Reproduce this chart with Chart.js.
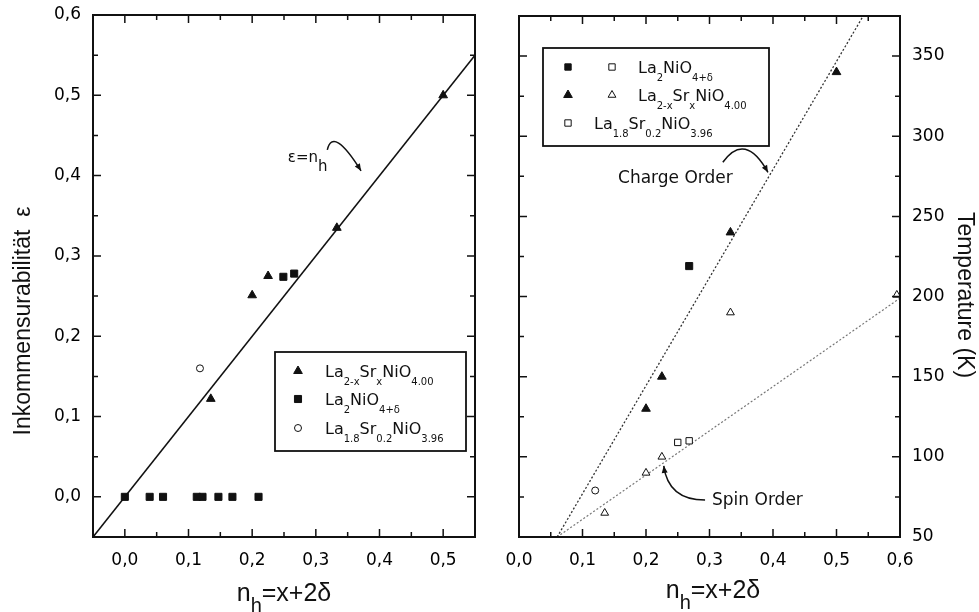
<!DOCTYPE html>
<html>
<head>
<meta charset="utf-8">
<script src="https://cdn.jsdelivr.net/npm/chart.js@4.4.1/dist/chart.umd.min.js"></script>
<style>
  body { margin: 0; background: #fff; }
  #wrap { position: relative; width: 979px; height: 612px; }
  canvas { position: absolute; top: 0; }
</style>
</head>
<body>
<div id="wrap">
  <canvas id="leftChart" width="490" height="612" style="left:0"></canvas>
  <canvas id="rightChart" width="489" height="612" style="left:490px"></canvas>
</div>
<script>
var TEXT_FONT = '"Liberation Sans", Arial, sans-serif';
var TICK_FONT = '"DejaVu Sans", sans-serif';

// ---- left panel: incommensurability vs. hole count ----
var nhSrLeft = [0.135, 0.2, 0.225, 0.333, 0.5];
var epsSrLeft = [0.122, 0.251, 0.275, 0.335, 0.5];
var nhOxLeft = [0.0, 0.039, 0.06, 0.113, 0.122, 0.147, 0.169, 0.21, 0.249, 0.266];
var epsOxLeft = [0, 0, 0, 0, 0, 0, 0, 0, 0.274, 0.278];
var nhSr02Left = [0.118];
var epsSr02Left = [0.16];
var nhFitLeft = [-0.05, 0.55];   // eps = n_h
var epsFitLeft = [-0.05, 0.55];

// ---- right panel: ordering temperatures ----
var nhOxCharge = [0.268];
var tOxCharge = [219];
var nhOxSpin = [0.25, 0.268];
var tOxSpin = [109, 110];
var nhSrCharge = [0.2, 0.225, 0.333, 0.5];
var tSrCharge = [130, 150, 240, 340];
var nhSrSpin = [0.135, 0.2, 0.225, 0.333, 0.595];
var tSrSpin = [65, 90, 100, 190, 201];
var nhSr02Right = [0.12];
var tSr02Right = [79];
var nhChargeLine = [0.06, 0.542];
var tChargeLine = [50, 375];
var nhSpinLine = [0.06, 0.6];
var tSpinLine = [50, 199];

// axis ranges / tick steps
var leftX = { min: -0.05, max: 0.55, step: 0.05, major: 0.1 };
var leftY = { min: -0.05, max: 0.6, step: 0.05, major: 0.1 };
var rightX = { min: 0, max: 0.6, step: 0.05, major: 0.1 };
var rightY = { min: 50, max: 375, step: 25, major: 50 };

function pts(xs, ys) {
  return xs.map(function (x, i) { return { x: x, y: ys[i] }; });
}

function isMajor(v, step) {
  var r = v / step;
  return Math.abs(r - Math.round(r)) < 1e-6;
}

function tickLabel(major, digits) {
  return function (v) {
    return isMajor(v, major) ? v.toFixed(digits).replace('.', ',') : '';
  };
}

// text with subscripts: parts = [[text, isSub], ...]
function drawRich(ctx, x, y, parts, size, subSize, subDy, family) {
  parts.forEach(function (p) {
    ctx.font = (p[1] ? subSize : size) + 'px ' + family;
    ctx.fillText(p[0], x, y + (p[1] ? subDy : 0));
    x += ctx.measureText(p[0]).width;
  });
  return x;
}

function marker(ctx, style, filled, x, y, r) {
  ctx.save();
  ctx.fillStyle = filled ? '#111' : '#fff';
  ctx.strokeStyle = '#111';
  ctx.lineWidth = 1;
  if (Chart.helpers && Chart.helpers.drawPoint) {
    Chart.helpers.drawPoint(ctx, { pointStyle: style, radius: r, rotation: 0, borderWidth: 1 }, x, y);
  }
  ctx.restore();
}

function curvedArrow(chart, pts3) {
  var ctx = chart.ctx, xs = chart.scales.x, ys = chart.scales.y;
  var p = pts3.map(function (q) { return [xs.getPixelForValue(q[0]), ys.getPixelForValue(q[1])]; });
  ctx.beginPath();
  ctx.moveTo(p[0][0], p[0][1]);
  ctx.quadraticCurveTo(p[1][0], p[1][1], p[2][0], p[2][1]);
  ctx.stroke();
  var ang = Math.atan2(p[2][1] - p[1][1], p[2][0] - p[1][0]);
  var L = 7, W = 3;
  ctx.beginPath();
  ctx.moveTo(p[2][0], p[2][1]);
  ctx.lineTo(p[2][0] - L * Math.cos(ang) + W * Math.sin(ang), p[2][1] - L * Math.sin(ang) - W * Math.cos(ang));
  ctx.lineTo(p[2][0] - L * Math.cos(ang) - W * Math.sin(ang), p[2][1] - L * Math.sin(ang) + W * Math.cos(ang));
  ctx.closePath();
  ctx.fill();
}

// box, inward tick marks on all four sides, titles, legend and notes
var framePlugin = {
  id: 'frame',
  afterDatasetsDraw: function (chart, args, opts) {
    var ctx = chart.ctx, a = chart.chartArea;
    var xs = chart.scales.x, ys = chart.scales.y;
    ctx.save();
    ctx.strokeStyle = '#111';
    ctx.fillStyle = '#111';
    ctx.lineWidth = 1.5;
    xs.ticks.forEach(function (t) {
      var px = xs.getPixelForValue(t.value);
      var len = isMajor(t.value, opts.xMajor) ? 8 : 5;
      ctx.beginPath();
      ctx.moveTo(px, a.bottom); ctx.lineTo(px, a.bottom - len);
      ctx.moveTo(px, a.top); ctx.lineTo(px, a.top + len);
      ctx.stroke();
    });
    ys.ticks.forEach(function (t) {
      var py = ys.getPixelForValue(t.value);
      var len = isMajor(t.value, opts.yMajor) ? 8 : 5;
      ctx.beginPath();
      ctx.moveTo(a.left, py); ctx.lineTo(a.left + len, py);
      ctx.moveTo(a.right, py); ctx.lineTo(a.right - len, py);
      ctx.stroke();
    });
    ctx.lineWidth = 2;
    ctx.strokeRect(a.left, a.top, a.right - a.left, a.bottom - a.top);

    // x title  n_h = x + 2δ
    ctx.textBaseline = 'alphabetic';
    ctx.textAlign = 'left';
    var xt = opts.xTitle;
    ctx.font = '25px ' + TEXT_FONT;
    var w = ctx.measureText('n').width + ctx.measureText('=x+2δ').width;
    ctx.font = '20px ' + TEXT_FONT;
    w += ctx.measureText('h').width;
    drawRich(ctx, xt.cx - w / 2, xt.y, [['n', 0], ['h', 1], ['=x+2δ', 0]], 25, 20, 11, TEXT_FONT);

    // y title
    var yt = opts.yTitle;
    ctx.save();
    ctx.translate(yt.x, yt.y);
    ctx.rotate(yt.rot);
    ctx.textAlign = 'center';
    ctx.font = '23px ' + TEXT_FONT;
    ctx.fillText(yt.text, 0, 0);
    ctx.restore();

    // legend
    var lg = opts.legend;
    ctx.lineWidth = 1.8;
    ctx.strokeRect(lg.box[0], lg.box[1], lg.box[2], lg.box[3]);
    lg.rows.forEach(function (row) {
      row.marks.forEach(function (m) { marker(ctx, m[0], m[1], m[2], row.y, m[3]); });
      ctx.fillStyle = '#111';
      drawRich(ctx, row.tx, row.y + 6, row.parts, 16, 10, 8, TICK_FONT);
    });

    // annotations
    ctx.lineWidth = 1.5;
    opts.notes.forEach(function (nt) {
      var px = xs.getPixelForValue(nt.at[0]), py = ys.getPixelForValue(nt.at[1]);
      drawRich(ctx, px, py, nt.parts, nt.size, nt.size, nt.subDy || 0, TICK_FONT);
      if (nt.arrow) curvedArrow(chart, nt.arrow);
    });
    ctx.restore();
  }
};

var fmlSr = [['La', 0], ['2-x', 1], ['Sr', 0], ['x', 1], ['NiO', 0], ['4.00', 1]];
var fmlOx = [['La', 0], ['2', 1], ['NiO', 0], ['4+δ', 1]];
var fmlSr02 = [['La', 0], ['1.8', 1], ['Sr', 0], ['0.2', 1], ['NiO', 0], ['3.96', 1]];

// fixed axis sizes so the plot boxes sit where they should
function fixX(h) {
  return function (s) { s.height = h; s.paddingLeft = 0; s.paddingRight = 0; };
}
function fixY(w) {
  return function (s) { s.width = w; s.paddingTop = 0; s.paddingBottom = 0; };
}

function baseScale(r, labelDigits, pad, extra) {
  var s = {
    type: 'linear', min: r.min, max: r.max,
    grid: { display: false, drawTicks: false },
    border: { display: false },
    ticks: {
      stepSize: r.step, autoSkip: false, maxRotation: 0, minRotation: 0, padding: pad,
      color: '#000', font: { family: TICK_FONT, size: 17 },
      callback: tickLabel(r.major, labelDigits)
    }
  };
  for (var k in extra) s[k] = extra[k];
  return s;
}

var common = {
  responsive: false,
  animation: false,
  events: []
};

// left chart
new Chart(document.getElementById('leftChart').getContext('2d'), {
  type: 'scatter',
  data: {
    datasets: [
      { data: pts(nhFitLeft, epsFitLeft), showLine: true, pointRadius: 0, borderColor: '#111', borderWidth: 1.6, order: 10 },
      { data: pts(nhSrLeft, epsSrLeft), pointStyle: 'triangle', pointRadius: 5, backgroundColor: '#111', borderColor: '#111', borderWidth: 1 },
      { data: pts(nhOxLeft, epsOxLeft), pointStyle: 'rect', pointRadius: 5, backgroundColor: '#111', borderColor: '#111', borderWidth: 1 },
      { data: pts(nhSr02Left, epsSr02Left), pointStyle: 'circle', pointRadius: 3.5, backgroundColor: '#fff', borderColor: '#111', borderWidth: 1 }
    ]
  },
  options: Object.assign({}, common, {
    layout: { padding: { top: 15, right: 15, left: 0, bottom: 0 } },
    scales: {
      x: baseScale(leftX, 1, 13, { position: 'bottom', afterFit: fixX(75) }),
      y: baseScale(leftY, 1, 12, { position: 'left', afterFit: fixY(93) })
    },
    plugins: {
      legend: { display: false }, tooltip: { enabled: false },
      frame: {
        xMajor: leftX.major, yMajor: leftY.major,
        xTitle: { cx: 284, y: 601 },
        yTitle: { x: 30, y: 321, rot: -Math.PI / 2, text: 'Inkommensurabilität  ε' },
        legend: {
          box: [275, 352, 191, 99],
          rows: [
            { y: 371, tx: 325, parts: fmlSr, marks: [['triangle', true, 298, 5]] },
            { y: 399, tx: 325, parts: fmlOx, marks: [['rect', true, 298, 5]] },
            { y: 428, tx: 325, parts: fmlSr02, marks: [['circle', false, 298, 3.5]] }
          ]
        },
        notes: [
          { at: [0.256, 0.417], parts: [['ε=n', 0], ['h', 1]], size: 15, subDy: 9,
            arrow: [[0.318, 0.432], [0.327, 0.462], [0.371, 0.406]] }
        ]
      }
    }
  }),
  plugins: [framePlugin]
});

// right chart
new Chart(document.getElementById('rightChart').getContext('2d'), {
  type: 'scatter',
  data: {
    datasets: [
      { data: pts(nhChargeLine, tChargeLine), showLine: true, pointRadius: 0, borderColor: '#333', borderWidth: 1.3, borderDash: [2, 2], order: 10 },
      { data: pts(nhSpinLine, tSpinLine), showLine: true, pointRadius: 0, borderColor: '#777', borderWidth: 1.2, borderDash: [2, 2], order: 10 },
      { data: pts(nhOxCharge, tOxCharge), pointStyle: 'rect', pointRadius: 5, backgroundColor: '#111', borderColor: '#111', borderWidth: 1 },
      { data: pts(nhOxSpin, tOxSpin), pointStyle: 'rect', pointRadius: 4.5, backgroundColor: '#fff', borderColor: '#111', borderWidth: 1 },
      { data: pts(nhSrCharge, tSrCharge), pointStyle: 'triangle', pointRadius: 5, backgroundColor: '#111', borderColor: '#111', borderWidth: 1 },
      { data: pts(nhSrSpin, tSrSpin), pointStyle: 'triangle', pointRadius: 4.5, backgroundColor: '#fff', borderColor: '#111', borderWidth: 1 },
      { data: pts(nhSr02Right, tSr02Right), pointStyle: 'circle', pointRadius: 3.5, backgroundColor: '#fff', borderColor: '#111', borderWidth: 1 }
    ]
  },
  options: Object.assign({}, common, {
    layout: { padding: { top: 16, right: 0, left: 29, bottom: 0 } },
    scales: {
      x: baseScale(rightX, 1, 13, { position: 'bottom', afterFit: fixX(75) }),
      y: baseScale(rightY, 0, 12, { position: 'right', afterFit: fixY(79) })
    },
    plugins: {
      legend: { display: false }, tooltip: { enabled: false },
      frame: {
        xMajor: rightX.major, yMajor: rightY.major,
        xTitle: { cx: 223, y: 598 },
        yTitle: { x: 468, y: 295, rot: Math.PI / 2, text: 'Temperature (K)' },
        legend: {
          box: [53, 48, 226, 98],
          rows: [
            { y: 67, tx: 148, parts: fmlOx, marks: [['rect', true, 78, 4.5], ['rect', false, 122, 4.5]] },
            { y: 95, tx: 148, parts: fmlSr, marks: [['triangle', true, 78, 5], ['triangle', false, 122, 4.5]] },
            { y: 123, tx: 104, parts: fmlSr02, marks: [['rect', false, 78, 4.5]] }
          ]
        },
        notes: [
          { at: [0.156, 270.6], parts: [['Charge Order', 0]], size: 17,
            arrow: [[0.321, 283.75], [0.356, 303], [0.392, 277.5]] },
          { at: [0.304, 70], parts: [['Spin Order', 0]], size: 17,
            arrow: [[0.293, 73.1], [0.235, 73.1], [0.228, 94.4]] }
        ]
      }
    }
  }),
  plugins: [framePlugin]
});
</script>
</body>
</html>
